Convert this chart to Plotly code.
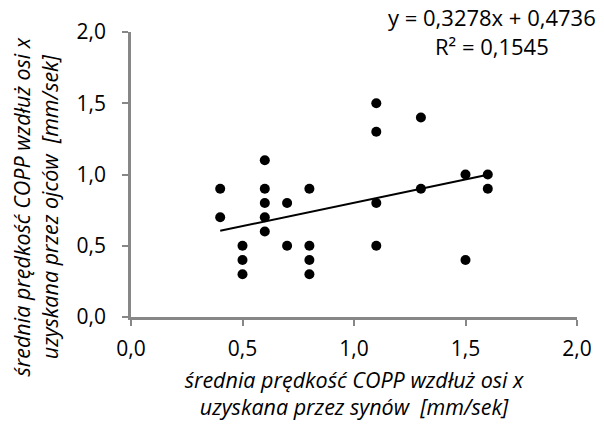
import plotly.graph_objects as go

# Data
x_sons = [0.4, 0.4, 0.5, 0.5, 0.5, 0.6, 0.6, 0.6, 0.6, 0.6, 0.7, 0.7, 0.8, 0.8, 0.8, 0.8,
          1.1, 1.1, 1.1, 1.1, 1.3, 1.3, 1.5, 1.5, 1.6, 1.6]
y_fathers = [0.9, 0.7, 0.5, 0.4, 0.3, 1.1, 0.9, 0.8, 0.7, 0.6, 0.8, 0.5, 0.9, 0.5, 0.4, 0.3,
             1.5, 1.3, 0.8, 0.5, 1.4, 0.9, 1.0, 0.4, 1.0, 0.9]
slope = 0.3278
intercept = 0.4736
r2 = 0.1545
tick_vals = [0.0, 0.5, 1.0, 1.5, 2.0]
tick_text = ["0,0", "0,5", "1,0", "1,5", "2,0"]
x_title = "średnia prędkość COPP wzdłuż osi x<br>uzyskana przez synów  [mm/sek]"
y_title = "średnia prędkość COPP wzdłuż osi x<br>uzyskana przez ojców  [mm/sek]"

FONT = "Open Sans"
fx = [min(x_sons), max(x_sons)]
fy = [slope * v + intercept for v in fx]

fig = go.Figure()
fig.add_trace(go.Scatter(x=x_sons, y=y_fathers, mode="markers",
                         marker=dict(color="black", size=10), showlegend=False))
fig.add_trace(go.Scatter(x=fx, y=fy, mode="lines",
                         line=dict(color="black", width=2), showlegend=False))

axis_common = dict(range=[0, 2], tickvals=tick_vals, ticktext=tick_text,
                   showgrid=False, zeroline=False, showline=True,
                   linecolor="#878787", linewidth=2.5,
                   ticks="outside", ticklen=6, tickwidth=2, tickcolor="#878787",
                   tickfont=dict(family=FONT, size=21, color="black"))

fig.update_xaxes(**axis_common, ticklabelstandoff=5,
                 title=dict(text=f"<i>{x_title}</i>",
                            font=dict(family=FONT, size=21.5, color="black"), standoff=12))
fig.update_yaxes(**axis_common, ticklabelstandoff=12)

fig.add_annotation(xref="paper", yref="paper", x=-0.214, y=0.386,
                   text=f"<i>{y_title}</i>", textangle=-90,
                   showarrow=False, xanchor="center", yanchor="middle",
                   font=dict(family=FONT, size=21.5, color="black"))

fig.add_annotation(xref="paper", yref="paper", x=0.81, y=1.0035,
                   text=f"y = {str(slope).replace('.', ',')}x + {str(intercept).replace('.', ',')}<br>R² = {str(r2).replace('.', ',')}",
                   showarrow=False, xanchor="center", yanchor="middle",
                   font=dict(family=FONT, size=22, color="black"))

fig.update_layout(width=604, height=432, margin=dict(l=131, r=19, t=32, b=115),
                  plot_bgcolor="white", paper_bgcolor="white")
fig.write_html("out.html")
